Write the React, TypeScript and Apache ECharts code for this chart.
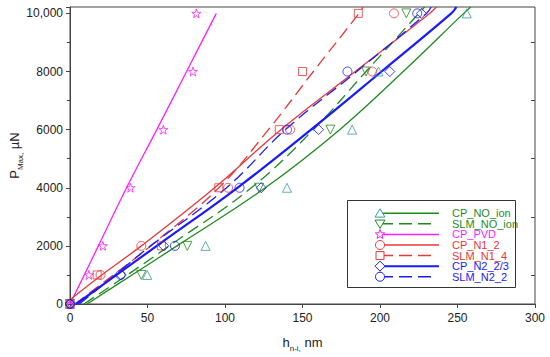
import React, { useEffect, useRef } from "react";
import * as echarts from "echarts";

// ---- data ----
const loads = [0, 1000, 2000, 4000, 6000, 8000, 10000]; // µN
const cpNoIonDepth = [0, 49.8, 87.5, 140, 182, 199, 256];
const slmNoIonDepth = [0, 46, 75.7, 122, 168, 191, 217];
const cpPvdDepth = [0, 12.2, 21.2, 39, 60.2, 79.3, 81.5];
const cpN12Depth = [0, 19.7, 46, 102, 142, 195, 209];
const slmN14Depth = [0, 17.5, 59, 96, 135, 150, 186];
const cpN223Depth = [0, 33, 60.5, 123.4, 160.4, 206.3, 226.7];
const slmN22Depth = [0, 32.6, 67.7, 109.4, 140, 179, 224];

// fitted curves
const fitLoads = [0, 1000, 2000, 4000, 6000, 8000, 10000, 10220];
const fitLoadsN12 = [150, 1000, 2000, 4000, 6000, 8000, 10000, 10220];
const fitLoadsPvd = [0, 1000, 2000, 4000, 6000, 8000, 10000];
const fitCpNoIon = [11, 40, 69, 126, 174, 215, 254, 258.5];
const fitSlmNoIon = [9, 37, 64, 117, 157, 191, 225, 228.8];
const fitCpPvd = [0, 9.2, 18.3, 36.5, 56, 75.2, 94.4];
const fitCpN12 = [0, 20.5, 46, 93.3, 136, 184, 232, 236.4];
const fitSlmN14 = [3, 28, 52, 96, 128, 157, 186.4, 189];
const fitCpN223 = [4, 30, 56, 108, 155.5, 201, 246, 249.3];
const fitSlmN22 = [6, 29, 52, 101, 139, 185, 230, 233];

const xTicks = { min: 0, max: 300, interval: 50 };
const yTicks = { min: 0, max: 10220, interval: 2000 };

const GREEN = "#1f8a1f";
const TEAL = "#3a9c9c";
const MAGENTA = "#ff1fff";
const RED = "#e8383a";
const BLUE = "#1a1aff";
const FONT = "'Liberation Sans', Arial, sans-serif";

const STAR =
  "path://M12,0 L14.8,8.6 L24,8.7 L16.6,14 L19.4,22.8 L12,17.4 L4.6,22.8 L7.4,14 L0,8.7 L9.2,8.6 Z";

type Def = {
  name: string;
  depth: number[];
  fitH: number[];
  fitP: number[];
  lineColor: string;
  markColor: string;
  textColor: string;
  marker: string;
  dashed: boolean;
  width: number;
};

const defs: Def[] = [
  { name: "CP_NO_ion", depth: cpNoIonDepth, fitH: fitCpNoIon, fitP: fitLoads, lineColor: GREEN, markColor: TEAL, textColor: GREEN, marker: "triangle", dashed: false, width: 1.3 },
  { name: "SLM_NO_ion", depth: slmNoIonDepth, fitH: fitSlmNoIon, fitP: fitLoads, lineColor: GREEN, markColor: GREEN, textColor: GREEN, marker: "down", dashed: true, width: 1.3 },
  { name: "CP_PVD", depth: cpPvdDepth, fitH: fitCpPvd, fitP: fitLoadsPvd, lineColor: MAGENTA, markColor: MAGENTA, textColor: MAGENTA, marker: "star", dashed: false, width: 1.3 },
  { name: "CP_N1_2", depth: cpN12Depth, fitH: fitCpN12, fitP: fitLoadsN12, lineColor: RED, markColor: RED, textColor: RED, marker: "circle", dashed: false, width: 1.3 },
  { name: "SLM_N1_4", depth: slmN14Depth, fitH: fitSlmN14, fitP: fitLoads, lineColor: RED, markColor: RED, textColor: RED, marker: "square", dashed: true, width: 1.3 },
  { name: "CP_N2_2/3", depth: cpN223Depth, fitH: fitCpN223, fitP: fitLoads, lineColor: BLUE, markColor: BLUE, textColor: BLUE, marker: "diamond", dashed: false, width: 2.2 },
  { name: "SLM_N2_2", depth: slmN22Depth, fitH: fitSlmN22, fitP: fitLoads, lineColor: BLUE, markColor: BLUE, textColor: BLUE, marker: "circle", dashed: true, width: 1.3 },
];

function symbolFor(m: string): { symbol: string; rotate: number; size: number } {
  switch (m) {
    case "triangle":
      return { symbol: "triangle", rotate: 0, size: 9 };
    case "down":
      return { symbol: "triangle", rotate: 180, size: 9 };
    case "star":
      return { symbol: STAR, rotate: 0, size: 9 };
    case "square":
      return { symbol: "rect", rotate: 0, size: 8 };
    case "diamond":
      return { symbol: "diamond", rotate: 0, size: 10 };
    default:
      return { symbol: "circle", rotate: 0, size: 9 };
  }
}

function legendMarker(m: string, x: number, y: number, color: string): any {
  const style = { fill: "#fff", stroke: color, lineWidth: 1 };
  const r = 4.5;
  if (m === "circle") return { type: "circle", shape: { cx: x, cy: y, r }, style, z: 102 };
  if (m === "square") return { type: "rect", shape: { x: x - 4, y: y - 4, width: 8, height: 8 }, style, z: 102 };
  if (m === "triangle")
    return { type: "polygon", shape: { points: [[x, y - 4.5], [x + 5, y + 3.8], [x - 5, y + 3.8]] }, style, z: 102 };
  if (m === "down")
    return { type: "polygon", shape: { points: [[x, y + 4.5], [x + 5, y - 3.8], [x - 5, y - 3.8]] }, style, z: 102 };
  if (m === "diamond")
    return { type: "polygon", shape: { points: [[x, y - 5], [x + 5, y], [x, y + 5], [x - 5, y]] }, style, z: 102 };
  const pts: number[][] = [];
  for (let i = 0; i < 10; i++) {
    const rr = i % 2 === 0 ? 5 : 2.1;
    const a = -Math.PI / 2 + (i * Math.PI) / 5;
    pts.push([x + rr * Math.cos(a), y + rr * Math.sin(a)]);
  }
  return { type: "polygon", shape: { points: pts }, style, z: 102 };
}

export default function App() {
  const ref = useRef<HTMLDivElement>(null);

  useEffect(() => {
    if (!ref.current) return;
    const chart = echarts.init(ref.current, undefined, { renderer: "svg" });

    const series: any[] = [];
    defs.forEach((d) => {
      series.push({
        name: d.name + " fit",
        type: "line",
        data: d.fitH.map((h, i) => [h, d.fitP[i]]),
        symbol: "none",
        smooth: 0.4,
        lineStyle: { color: d.lineColor, width: d.width, type: d.dashed ? [12, 6] : "solid" },
        z: 2,
        silent: true,
      });
      const s = symbolFor(d.marker);
      series.push({
        name: d.name,
        type: "scatter",
        data: d.depth.map((h, i) => [h, loads[i]]),
        symbol: s.symbol,
        symbolRotate: s.rotate,
        symbolSize: s.size,
        clip: false,
        itemStyle: { color: "rgba(255,255,255,0)", borderColor: d.markColor, borderWidth: 1 },
        z: 3,
      });
    });

    const boxX = 347.5, boxY = 200.5, rowY0 = 213.3, rowStep = 10.57;
    const legendEls: any[] = [
      { type: "rect", shape: { x: boxX, y: boxY, width: 168, height: 87 }, style: { fill: "#fff", stroke: "#333", lineWidth: 1 }, z: 100 },
    ];
    defs.forEach((d, i) => {
      const y = rowY0 + i * rowStep;
      legendEls.push({
        type: "line",
        shape: { x1: 380, y1: y, x2: d.dashed ? 434 : 439, y2: y },
        style: { stroke: d.lineColor, lineWidth: d.width > 2 ? 2 : 1.5, lineDash: d.dashed ? [13, 6] : null },
        z: 101,
      });
      legendEls.push(legendMarker(d.marker, 380, y, d.markColor));
      legendEls.push({
        type: "text",
        x: 452,
        y: y,
        style: { text: d.name, fill: d.textColor, font: `11px ${FONT}`, verticalAlign: "middle", align: "left" },
        z: 103,
      });
    });

    const nameRich = {
      a: { fontSize: 13, color: "#222", fontFamily: FONT, lineHeight: 15, verticalAlign: "bottom" },
      b: { fontSize: 8, color: "#222", fontFamily: FONT, lineHeight: 15, verticalAlign: "bottom", padding: [0, 0, -3, 0] },
    };

    chart.setOption({
      animation: false,
      backgroundColor: "#fff",
      textStyle: { fontFamily: FONT },
      grid: {
        left: 70, right: 15, top: 7, bottom: 53,
        outerBoundsMode: "none",
        containLabel: false,
        show: true, borderColor: "#444", borderWidth: 1, backgroundColor: "transparent",
      },
      xAxis: {
        type: "value",
        min: xTicks.min,
        max: xTicks.max,
        interval: xTicks.interval,
        splitLine: { show: false },
        axisLine: { lineStyle: { color: "#444" } },
        axisTick: { length: 4, lineStyle: { color: "#444" } },
        axisLabel: { color: "#222", fontSize: 12, margin: 8, fontFamily: FONT },
        name: "{a|h}{b|n-i,}{a| nm}",
        nameLocation: "middle",
        nameGap: 30,
        nameMoveOverlap: false,
        nameTextStyle: { rich: nameRich },
      },
      yAxis: [
        {
          type: "value",
          min: yTicks.min,
          max: yTicks.max,
          interval: yTicks.interval,
          splitLine: { show: false },
          axisLine: { show: true, lineStyle: { color: "#444" } },
          axisTick: { show: true, length: 4, lineStyle: { color: "#444" } },
          minorTick: { show: true, splitNumber: 2, length: 3, lineStyle: { color: "#444" } },
          minorSplitLine: { show: false },
          axisLabel: {
            color: "#222",
            fontSize: 12,
            margin: 7,
            fontFamily: FONT,
            showMaxLabel: false,
            formatter: (v: number) => (v % 2000 !== 0 ? "" : v === 10000 ? "10,000" : String(v)),
          },
          name: "{a|P}{b|Max,}{a| µN}",
          nameLocation: "middle",
          nameRotate: 90,
          nameGap: 49,
          nameMoveOverlap: false,
          nameTextStyle: { rich: nameRich },
        },
        {
          type: "value",
          position: "right",
          min: yTicks.min,
          max: yTicks.max,
          interval: yTicks.interval,
          splitLine: { show: false },
          axisLine: { show: false },
          axisTick: { show: false, inside: true },
          minorTick: { show: true, splitNumber: 2, length: 4, lineStyle: { color: "#444" } },
          axisLabel: { show: false },
        },
      ],
      series,
      graphic: legendEls,
    });

    return () => chart.dispose();
  }, []);

  return <div ref={ref} style={{ position: "fixed", left: 0, top: 0, width: 550, height: 357 }} />;
}
